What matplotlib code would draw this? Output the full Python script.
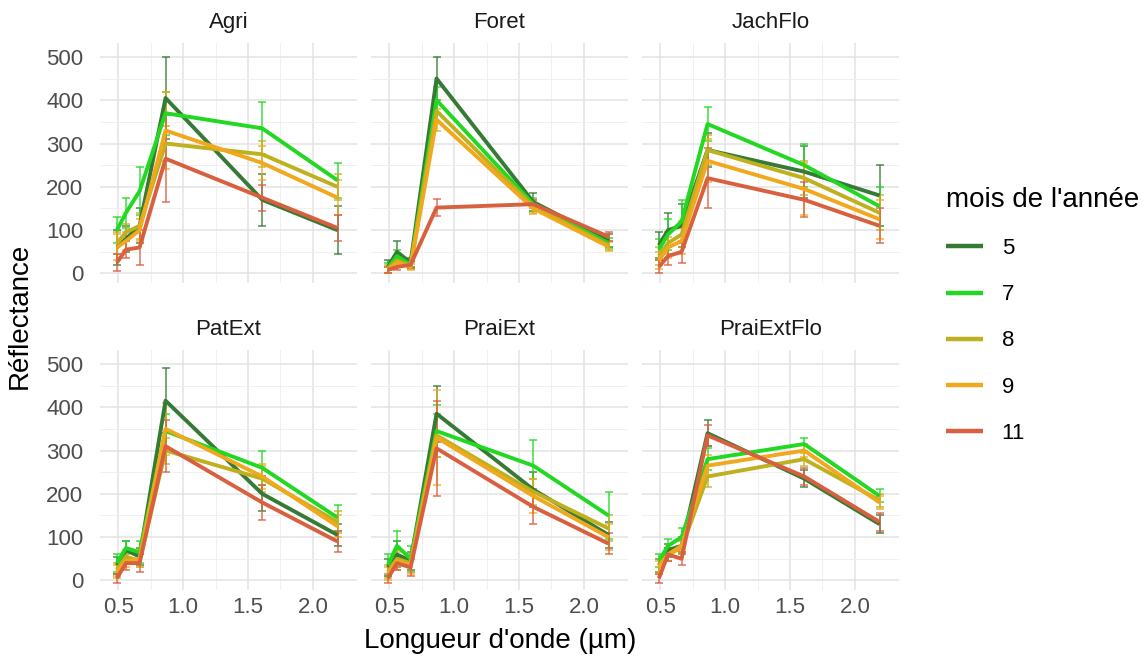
import matplotlib
matplotlib.use("Agg")
import matplotlib.pyplot as plt
import numpy as np

plt.rcParams["font.family"] = ["Liberation Sans", "DejaVu Sans"]

# Sentinel-2 band centres (µm)
wavelengths = [0.49, 0.56, 0.665, 0.865, 1.61, 2.19]

facets = ["Agri", "Foret", "JachFlo", "PatExt", "PraiExt", "PraiExtFlo"]
months = ["5", "7", "8", "9", "11"]
month_colors = ["#357A35", "#22D822", "#BFB020", "#F0A81C", "#D9603F"]

# mean reflectance per facet, one row per month (5, 7, 8, 9, 11)
agri_mean = [[60, 80, 110, 405, 170, 100],
             [100, 140, 190, 370, 335, 215],
             [70, 95, 110, 300, 275, 200],
             [60, 75, 100, 330, 255, 175],
             [25, 55, 60, 265, 175, 105]]
agri_sd = [[40, 30, 40, 95, 60, 55],
           [30, 35, 55, 50, 60, 40],
           [25, 20, 30, 40, 30, 30],
           [30, 20, 25, 90, 40, 40],
           [20, 20, 40, 100, 30, 30]]

foret_mean = [[15, 50, 25, 450, 165, 75],
              [12, 40, 20, 400, 160, 70],
              [10, 30, 18, 375, 155, 65],
              [8, 25, 15, 355, 150, 62],
              [8, 15, 20, 152, 160, 85]]
foret_sd = [[15, 25, 10, 50, 20, 15],
            [12, 15, 8, 30, 15, 12],
            [10, 10, 8, 25, 15, 10],
            [8, 10, 6, 25, 12, 10],
            [8, 8, 8, 20, 10, 10]]

jach_mean = [[65, 100, 110, 285, 235, 180],
             [55, 90, 120, 345, 250, 155],
             [40, 70, 90, 285, 220, 140],
             [30, 60, 75, 260, 195, 125],
             [15, 40, 50, 220, 170, 110]]
jach_sd = [[30, 40, 50, 40, 60, 70],
           [25, 35, 50, 40, 50, 45],
           [20, 25, 30, 35, 40, 40],
           [20, 25, 30, 50, 60, 45],
           [15, 20, 25, 70, 40, 40]]

patext_mean = [[35, 70, 55, 415, 200, 105],
               [40, 75, 65, 345, 260, 145],
               [25, 55, 45, 300, 235, 135],
               [20, 45, 50, 350, 240, 125],
               [5, 40, 40, 310, 180, 90]]
patext_sd = [[20, 20, 20, 75, 40, 25],
             [20, 15, 25, 40, 40, 30],
             [15, 15, 15, 30, 30, 25],
             [15, 15, 20, 60, 30, 25],
             [10, 15, 20, 60, 40, 25]]

praiext_mean = [[30, 60, 45, 385, 210, 105],
                [35, 80, 50, 345, 265, 150],
                [20, 50, 40, 335, 205, 120],
                [15, 45, 35, 330, 195, 100],
                [5, 40, 30, 305, 170, 85]]
praiext_sd = [[20, 30, 20, 65, 40, 30],
              [25, 35, 30, 60, 60, 55],
              [15, 20, 20, 50, 30, 30],
              [15, 20, 20, 110, 40, 30],
              [10, 15, 20, 110, 40, 25]]

praiflo_mean = [[35, 70, 80, 340, 235, 130],
                [45, 80, 100, 280, 315, 195],
                [35, 60, 75, 240, 280, 185],
                [30, 60, 80, 265, 300, 180],
                [5, 60, 50, 335, 240, 135]]
praiflo_sd = [[15, 15, 20, 30, 20, 20],
              [15, 15, 20, 25, 15, 15],
              [15, 15, 15, 25, 15, 15],
              [15, 15, 15, 25, 15, 15],
              [10, 15, 15, 25, 20, 20]]

means = [agri_mean, foret_mean, jach_mean, patext_mean, praiext_mean, praiflo_mean]
sds = [agri_sd, foret_sd, jach_sd, patext_sd, praiext_sd, praiflo_sd]

W, H = 1146, 668
fig = plt.figure(figsize=(W / 100, H / 100), dpi=100)

panel_left = [100, 371, 642]
panel_top = [43, 350]
panel_w, panel_h = 257, 240

grid_major = "#E3E3E3"
grid_minor = "#F0F0F0"
small_fs = 16
big_fs = 20

axes = []
for i, name in enumerate(facets):
    r, c = divmod(i, 3)
    ax = fig.add_axes([panel_left[c] / W, 1 - (panel_top[r] + panel_h) / H,
                       panel_w / W, panel_h / H])
    axes.append(ax)
    for sp in ax.spines.values():
        sp.set_visible(False)
    ax.set_xlim(0.36, 2.34)
    ax.set_ylim(-22, 532)
    ax.set_xticks([0.5, 1.0, 1.5, 2.0])
    ax.set_xticks([0.75, 1.25, 1.75], minor=True)
    ax.set_yticks([0, 100, 200, 300, 400, 500])
    ax.set_yticks([50, 150, 250, 350, 450], minor=True)
    ax.grid(True, which="major", color=grid_major, linewidth=1.1)
    ax.grid(True, which="minor", color=grid_minor, linewidth=0.7)
    ax.set_axisbelow(True)
    ax.tick_params(which="both", length=0, colors="#4D4D4D", labelsize=small_fs)
    ax.tick_params(axis="y", pad=12)
    ax.tick_params(axis="x", pad=5)
    if c != 0:
        ax.set_yticklabels([])
    if r != 1:
        ax.set_xticklabels([])
    ax.set_title(name, fontsize=small_fs, color="#1A1A1A", pad=11)

    for k in range(len(months)):
        m = np.array(means[i][k], dtype=float)
        s = np.array(sds[i][k], dtype=float)
        ax.errorbar(wavelengths, m, yerr=s, fmt="none", ecolor=month_colors[k],
                    elinewidth=1.2, capsize=3, capthick=1.2, alpha=0.8, zorder=2)
    for k in range(len(months)):
        ax.plot(wavelengths, means[i][k], color=month_colors[k], linewidth=2.8,
                zorder=3, label=months[k], solid_capstyle="butt")

fig.text(20 / W, 1 - 316 / H, "Réflectance", rotation=90, ha="center",
         va="center", fontsize=big_fs)
fig.text(500 / W, 1 - 641 / H, "Longueur d'onde (µm)", ha="center",
         va="center", fontsize=big_fs)

handles, labels = axes[0].get_legend_handles_labels()
leg = fig.legend(handles, labels, title="mois de l'année", loc="upper left",
                 bbox_to_anchor=(935 / W, 1 - 176 / H), frameon=False,
                 borderpad=0, fontsize=small_fs, title_fontsize=big_fs,
                 alignment="left", handlelength=1.65, handletextpad=0.85,
                 labelspacing=1.13)
for line in leg.get_lines():
    line.set_linewidth(3.2)

fig.savefig("out.png", dpi=100)
